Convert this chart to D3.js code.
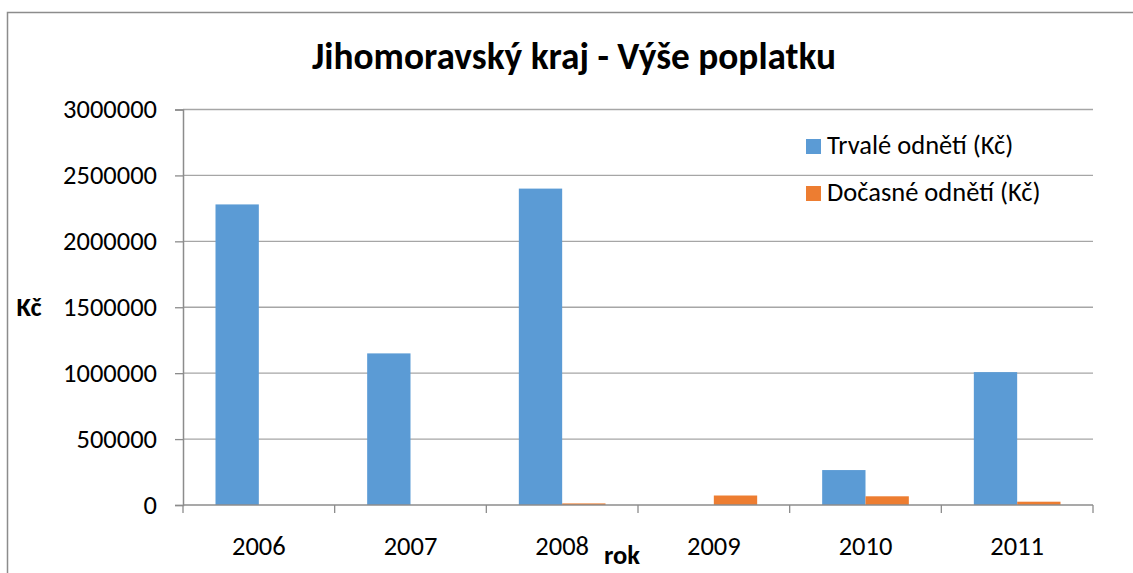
<!DOCTYPE html>
<html>
<head>
<meta charset="utf-8">
<script src="https://cdn.jsdelivr.net/npm/d3@7"></script>
<style>
  body { margin: 0; background: #fff; }
  svg { display: block; font-family: Carlito, Lato, "Open Sans", sans-serif; }
</style>
</head>
<body>
<div id="viz"></div>
<script>
const years = ['2006', '2007', '2008', '2009', '2010', '2011'];
const trvale = [2280000, 1150000, 2400000, 0, 265000, 1008000];
const docasne = [0, 0, 12000, 72000, 66000, 25000];
const seriesNames = ['Trvalé odnětí (Kč)', 'Dočasné odnětí (Kč)'];
const seriesColors = ['#5b9bd5', '#ed7d31'];
const yTicks = [0, 500000, 1000000, 1500000, 2000000, 2500000, 3000000];

const width = 1133, height = 573;
const margin = { top: 109.5, left: 183, right: 40, bottom: 68 };
const plotW = 1093 - margin.left;
const plotH = 505 - margin.top;

// shrink/grow a text node so it spans the wanted width
const fit = (sel, target) => {
  const node = sel.node();
  const fs = parseFloat(sel.attr('font-size'));
  const w = node.getComputedTextLength();
  sel.attr('font-size', (fs * target / w).toFixed(2));
  return sel;
};

const svg = d3.select('#viz')
  .append('svg')
  .attr('width', width)
  .attr('height', height);

// chart frame
svg.append('rect')
  .attr('x', 7.5).attr('y', 12.5)
  .attr('width', 1200).attr('height', 700)
  .attr('fill', 'none')
  .attr('stroke', '#8c8c8c')
  .attr('stroke-width', 1.5);

const g = svg.append('g').attr('transform', `translate(${margin.left},${margin.top})`);

const y = d3.scaleLinear().domain([0, 3000000]).range([plotH, 0]);
const x0 = d3.scaleBand().domain(years).range([0, plotW]);
const barW = x0.bandwidth() / 3.5;
const x1 = d3.scaleBand()
  .domain([0, 1])
  .range([x0.bandwidth() / 2 - barW, x0.bandwidth() / 2 + barW]);

// gridlines
g.selectAll('.grid')
  .data(yTicks.filter(d => d > 0))
  .enter()
  .append('line')
  .attr('x1', 0).attr('x2', plotW)
  .attr('y1', d => y(d)).attr('y2', d => y(d))
  .attr('stroke', '#a6a6a6')
  .attr('stroke-width', 1.3);

// y axis
const yAxis = g.append('g')
  .call(d3.axisLeft(y).tickValues(yTicks).tickSize(8).tickPadding(18).tickFormat(d3.format('d')));
yAxis.select('.domain').attr('stroke', '#8c8c8c').attr('stroke-width', 1.5);
yAxis.selectAll('.tick line').attr('stroke', '#8c8c8c').attr('stroke-width', 1.3);
yAxis.selectAll('.tick text')
  .attr('font-size', 20)
  .attr('fill', '#000')
  .attr('font-family', 'Carlito, Lato, "Open Sans", sans-serif');

// bars
const data = years.map((yr, i) => ({ yr, vals: [trvale[i], docasne[i]] }));
g.selectAll('.year')
  .data(data)
  .enter()
  .append('g')
  .attr('transform', d => `translate(${x0(d.yr)},0)`)
  .selectAll('rect')
  .data(d => d.vals.map((v, s) => ({ v, s })))
  .enter()
  .append('rect')
  .filter(d => d.v > 0)
  .attr('x', d => x1(d.s))
  .attr('width', x1.bandwidth())
  .attr('y', d => y(d.v))
  .attr('height', d => plotH - y(d.v))
  .attr('fill', d => seriesColors[d.s]);

// x axis
const xAxis = g.append('g')
  .attr('transform', `translate(0,${plotH})`);
xAxis.append('line')
  .attr('x1', 0).attr('x2', plotW)
  .attr('stroke', '#8c8c8c').attr('stroke-width', 1.5);
xAxis.selectAll('.xt')
  .data(years.concat(['end']))
  .enter()
  .append('line')
  .attr('x1', (d, i) => i * x0.step())
  .attr('x2', (d, i) => i * x0.step())
  .attr('y1', 0).attr('y2', 8)
  .attr('stroke', '#8c8c8c').attr('stroke-width', 1.3);
xAxis.selectAll('.xl')
  .data(years)
  .enter()
  .append('text')
  .attr('x', d => x0(d) + x0.bandwidth() / 2)
  .attr('y', 50)
  .attr('text-anchor', 'middle')
  .attr('font-size', 20)
  .text(d => d);

// fit label font to the reference width of "3000000" (~94px)
const probe = yAxis.selectAll('.tick text').filter(d => d === 3000000);
const baseW = probe.node().getComputedTextLength();
const labelFs = 20 * 94 / baseW;
yAxis.selectAll('.tick text').attr('font-size', labelFs.toFixed(2));
xAxis.selectAll('text').attr('font-size', labelFs.toFixed(2));

// title
const title = svg.append('text')
  .attr('x', 574).attr('y', 69)
  .attr('text-anchor', 'middle')
  .attr('font-weight', 'bold')
  .attr('font-size', 30)
  .text('Jihomoravský kraj - Výše poplatku');
fit(title, 524);

// axis titles
svg.append('text')
  .attr('x', 29).attr('y', 316)
  .attr('text-anchor', 'middle')
  .attr('font-weight', 'bold')
  .attr('font-size', labelFs.toFixed(2))
  .text('Kč');
svg.append('text')
  .attr('x', 622).attr('y', 564)
  .attr('text-anchor', 'middle')
  .attr('font-weight', 'bold')
  .attr('font-size', labelFs.toFixed(2))
  .text('rok');

// legend
const legend = svg.append('g').attr('transform', 'translate(806,139)');
const items = legend.selectAll('.item')
  .data(seriesNames)
  .enter()
  .append('g')
  .attr('transform', (d, i) => `translate(0,${i * 47})`);
items.append('rect')
  .attr('width', 15).attr('height', 15)
  .attr('fill', (d, i) => seriesColors[i]);
items.append('text')
  .attr('x', 21).attr('y', 15)
  .attr('font-size', labelFs.toFixed(2))
  .text(d => d);
</script>
</body>
</html>
